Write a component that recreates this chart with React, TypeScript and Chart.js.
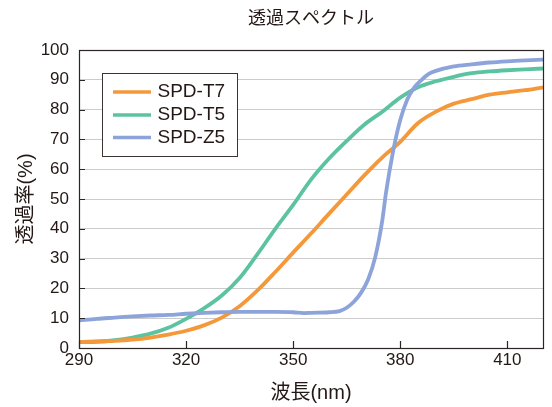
import { useEffect, useRef } from "react";
import { Chart, registerables } from "chart.js";

Chart.register(...registerables);

const chartTitle = "透過スペクトル";
const xTitle = "波長(nm)";
const yTitle = "透過率(%)";

const seriesLabels = ["SPD-T7", "SPD-T5", "SPD-Z5"];
const seriesColors = ["#F4983A", "#5CC3A1", "#8CA4DA"];

const wavelengths = [
  290, 295, 300, 305, 310, 315, 320, 325, 330, 335, 340, 345, 350, 355, 360,
  365, 370, 375, 380, 385, 390, 395, 400, 405, 410, 415, 420,
];
const t7Values = [
  2.0, 2.2, 2.4, 2.8, 3.5, 4.5, 5.8, 7.6, 10.2, 14.0, 19.3, 25.5, 32.0, 38.4,
  45.0, 51.5, 58.0, 64.0, 69.2, 75.5, 79.3, 82.0, 83.5, 85.0, 85.8, 86.5, 87.5,
];
const t5Values = [
  2.0, 2.1, 2.6, 3.5, 4.8, 6.8, 9.8, 13.3, 17.6, 23.5, 31.5, 40.0, 48.0, 56.5,
  63.5, 69.5, 75.0, 79.3, 84.0, 87.5, 89.5, 91.0, 92.2, 92.8, 93.2, 93.5, 93.8,
];
const z5Wavelengths = [
  290, 295, 300, 305, 310, 315, 320, 325, 330, 335, 340, 345, 350, 353, 355,
  360, 363, 365, 367, 369, 371, 373, 375, 376, 378, 380, 382, 384, 386, 388,
  390, 395, 400, 405, 410, 415, 420,
];
const z5Values = [
  9.2, 9.8, 10.2, 10.6, 10.9, 11.1, 11.5, 11.8, 12.0, 12.1, 12.1, 12.1, 12.0,
  11.7, 11.8, 12.0, 12.4, 13.5, 15.5, 18.5, 23.0, 30.5, 43.0, 52.0, 66.0, 76.5,
  83.5, 87.5, 90.0, 92.0, 93.0, 94.5, 95.2, 95.8, 96.2, 96.5, 96.8,
];

const xTickValues = [290, 320, 350, 380, 410];
const yTickValues = [0, 10, 20, 30, 40, 50, 60, 70, 80, 90, 100];

const FONT = "'Liberation Sans', Arial, 'Noto Sans CJK JP', sans-serif";
const TEXT = "#231815";

const framePlugin = {
  id: "frameTicks",
  afterDatasetsDraw(chart: any) {
    const { ctx, chartArea } = chart;
    const xs = chart.scales.x;
    const ys = chart.scales.y;
    ctx.save();
    ctx.strokeStyle = "#2b2523";
    ctx.lineWidth = 1.2;
    ctx.beginPath();
    for (const v of yTickValues) {
      const py = Math.round(ys.getPixelForValue(v)) + 0.5;
      ctx.moveTo(chartArea.left, py);
      ctx.lineTo(chartArea.left + 6, py);
    }
    for (const v of xTickValues) {
      const px = Math.round(xs.getPixelForValue(v)) + 0.5;
      ctx.moveTo(px, chartArea.bottom);
      ctx.lineTo(px, chartArea.bottom - 7);
    }
    ctx.stroke();
    ctx.strokeRect(
      Math.round(chartArea.left) + 0.5,
      Math.round(chartArea.top) + 0.5,
      Math.round(chartArea.right - chartArea.left),
      Math.round(chartArea.bottom - chartArea.top)
    );

    // legend box
    const bx = 102.5, by = 73.5, bw = 135, bh = 83;
    ctx.fillStyle = "#ffffff";
    ctx.fillRect(bx, by, bw, bh);
    ctx.strokeStyle = "#3a3432";
    ctx.lineWidth = 1;
    ctx.strokeRect(bx, by, bw, bh);
    const rows = [92, 115, 137.5];
    chart.data.datasets.forEach((ds: any, i: number) => {
      const y = rows[i];
      ctx.strokeStyle = ds.borderColor;
      ctx.lineWidth = 3.5;
      ctx.beginPath();
      ctx.moveTo(113, y);
      ctx.lineTo(151, y);
      ctx.stroke();
      ctx.fillStyle = TEXT;
      ctx.font = `19px ${FONT}`;
      ctx.textBaseline = "middle";
      ctx.textAlign = "left";
      ctx.fillText(ds.label, 157.5, y);
    });
    ctx.restore();
  },
};

export default function App() {
  const canvasRef = useRef<HTMLCanvasElement | null>(null);

  useEffect(() => {
    const canvas = canvasRef.current;
    if (!canvas) return;
    const series = [
      wavelengths.map((x, i) => ({ x, y: t7Values[i] })),
      wavelengths.map((x, i) => ({ x, y: t5Values[i] })),
      z5Wavelengths.map((x, i) => ({ x, y: z5Values[i] })),
    ];
    const chart = new Chart(canvas, {
      type: "line",
      data: {
        datasets: series.map((data, i) => ({
          label: seriesLabels[i],
          data,
          borderColor: seriesColors[i],
          backgroundColor: seriesColors[i],
          borderWidth: 3.8,
          pointRadius: 0,
          tension: 0.3,
          cubicInterpolationMode: "monotone" as const,
          fill: false,
          order: i === 2 ? 0 : i + 1,
        })),
      },
      options: {
        animation: false,
        responsive: false,
        devicePixelRatio: 1,
        layout: { padding: { left: 0, right: 9, top: 0, bottom: 0 } },
        plugins: {
          legend: { display: false },
          tooltip: { enabled: false },
          title: {
            display: true,
            text: chartTitle,
            fullSize: false,
            color: TEXT,
            font: { family: FONT, size: 18, weight: "normal", lineHeight: 1.2 },
            padding: { top: 8.2, bottom: 20.2 },
          },
        },
        scales: {
          x: {
            type: "linear",
            min: 290,
            max: 420,
            afterBuildTicks: (s: any) => {
              s.ticks = xTickValues.map((v) => ({ value: v }));
            },
            afterFit: (s: any) => {
              s.height = 59;
            },
            grid: { display: false, drawTicks: false },
            border: { display: false },
            ticks: {
              color: TEXT,
              padding: 2,
              maxRotation: 0,
              autoSkip: false,
              font: { family: FONT, size: 17, lineHeight: 1.2 },
            },
            title: {
              display: true,
              text: xTitle,
              color: TEXT,
              font: { family: FONT, size: 20, lineHeight: 1.2 },
              padding: { top: 0, bottom: 2 },
            },
          },
          y: {
            type: "linear",
            min: 0,
            max: 100,
            afterBuildTicks: (s: any) => {
              s.ticks = yTickValues.map((v) => ({ value: v }));
            },
            afterFit: (s: any) => {
              s.width = 79;
            },
            grid: { color: "#cccccc", lineWidth: 1, drawTicks: false },
            border: { display: false },
            ticks: {
              color: TEXT,
              padding: 10,
              autoSkip: false,
              font: { family: FONT, size: 17, lineHeight: 1.2 },
            },
            title: {
              display: true,
              text: yTitle,
              color: TEXT,
              font: { family: FONT, size: 20, lineHeight: 1.2 },
              padding: { top: 14, bottom: 0 },
            },
          },
        },
      },
      plugins: [framePlugin],
    });
    return () => chart.destroy();
  }, []);

  return (
    <div style={{ position: "absolute", left: 0, top: 0, width: 552, height: 407, background: "#fff" }}>
      <canvas ref={canvasRef} width={552} height={407} style={{ width: 552, height: 407, display: "block" }} />
    </div>
  );
}
